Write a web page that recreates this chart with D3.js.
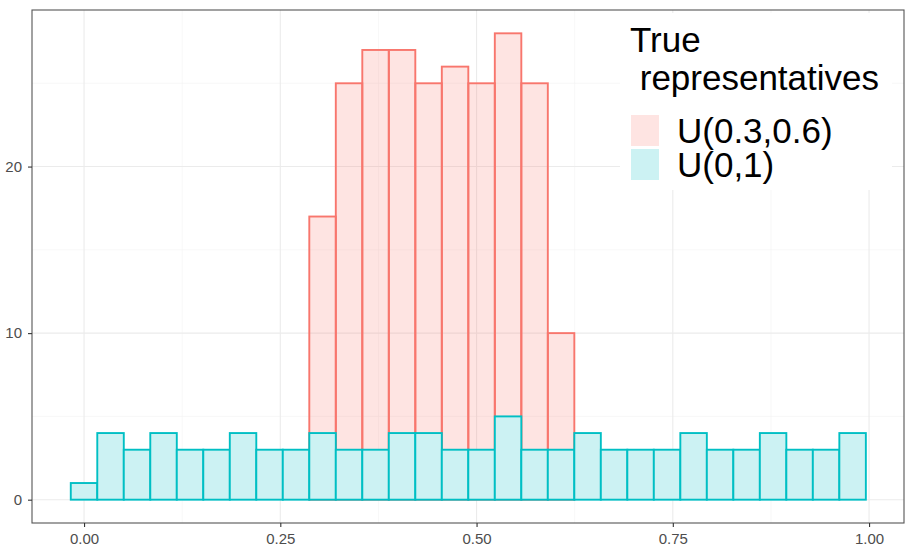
<!DOCTYPE html>
<html>
<head>
<meta charset="utf-8">
<script src="https://cdn.jsdelivr.net/npm/d3@7/dist/d3.min.js"></script>
<style>
  html, body { margin: 0; padding: 0; background: #ffffff; }
  svg { display: block; font-family: "Liberation Sans", Arial, Helvetica, sans-serif; }
</style>
</head>
<body>
<svg id="chart" width="915" height="550"></svg>
<script>
// ---- data ----
const binStart = -0.0169;
const binWidth = 0.03376;
const seriesNames = ["U(0.3,0.6)", "U(0,1)"];
const seriesColors = ["#F8766D", "#00BFC4"];
const seriesFills = ["#FEE4E2", "#CCF2F3"];
// U(0.3,0.6): counts in bins 9..18 (others zero)
const redFirstBin = 9;
const redCounts = [17, 25, 27, 27, 25, 26, 25, 28, 25, 10];
// U(0,1): counts in all 30 bins
const blueCounts = [1, 4, 3, 4, 3, 3, 4, 3, 3, 4,
                    3, 3, 4, 4, 3, 3, 5, 3, 3, 4,
                    3, 3, 3, 4, 3, 3, 4, 3, 3, 4];
const xTicks = [0, 0.25, 0.5, 0.75, 1];
const xMinor = [0.125, 0.375, 0.625, 0.875];
const yTicks = [0, 10, 20];
const yMinor = [5, 15, 25];
const legendTitle = ["True", " representatives"];

// ---- layout ----
const panel = { left: 32, right: 904, top: 10, bottom: 523 };
const svg = d3.select("#chart");

const x = d3.scaleLinear().domain([-0.0663, 1.0445]).range([panel.left, panel.right]);
const yMax = d3.max(redCounts.concat(blueCounts));
const y = d3.scaleLinear().domain([-0.05 * yMax, yMax * 1.05]).range([panel.bottom, panel.top]);

const fmtX = d3.format(".2f");

// panel background
svg.append("rect").attr("x", panel.left).attr("y", panel.top)
  .attr("width", panel.right - panel.left).attr("height", panel.bottom - panel.top)
  .attr("fill", "#ffffff");

// grid
const grid = svg.append("g");
grid.selectAll(".xmin").data(xMinor).enter().append("line")
  .attr("x1", d => x(d)).attr("x2", d => x(d))
  .attr("y1", panel.top).attr("y2", panel.bottom)
  .attr("stroke", "#F2F2F2").attr("stroke-width", 0.6);
grid.selectAll(".ymin").data(yMinor).enter().append("line")
  .attr("y1", d => y(d)).attr("y2", d => y(d))
  .attr("x1", panel.left).attr("x2", panel.right)
  .attr("stroke", "#F2F2F2").attr("stroke-width", 0.6);
grid.selectAll(".xmaj").data(xTicks).enter().append("line")
  .attr("x1", d => x(d)).attr("x2", d => x(d))
  .attr("y1", panel.top).attr("y2", panel.bottom)
  .attr("stroke", "#EBEBEB").attr("stroke-width", 1.1);
grid.selectAll(".ymaj").data(yTicks).enter().append("line")
  .attr("y1", d => y(d)).attr("y2", d => y(d))
  .attr("x1", panel.left).attr("x2", panel.right)
  .attr("stroke", "#EBEBEB").attr("stroke-width", 1.1);

// bars
const redData = redCounts.map((c, i) => ({ x0: binStart + (redFirstBin + i) * binWidth, count: c }));
const blueData = blueCounts.map((c, i) => ({ x0: binStart + i * binWidth, count: c }));

function drawBars(data, color, fill, op) {
  svg.append("g").selectAll("rect").data(data).enter().append("rect")
    .attr("x", d => x(d.x0))
    .attr("width", d => x(d.x0 + binWidth) - x(d.x0))
    .attr("y", d => y(d.count))
    .attr("height", d => y(0) - y(d.count))
    .attr("fill", fill).attr("fill-opacity", op)
    .attr("stroke", color).attr("stroke-width", 1.9);
}
drawBars(redData, seriesColors[0], seriesColors[0], 0.2);
drawBars(blueData, seriesColors[1], seriesFills[1], 1);

// panel border
svg.append("rect").attr("x", panel.left).attr("y", panel.top)
  .attr("width", panel.right - panel.left).attr("height", panel.bottom - panel.top)
  .attr("fill", "none").attr("stroke", "#555555").attr("stroke-width", 1.1);

// axes
const xAxis = svg.append("g").attr("transform", `translate(0,${panel.bottom})`)
  .call(d3.axisBottom(x).tickValues(xTicks).tickFormat(fmtX).tickSize(4).tickPadding(6));
const yAxis = svg.append("g").attr("transform", `translate(${panel.left},0)`)
  .call(d3.axisLeft(y).tickValues(yTicks).tickSize(4).tickPadding(6));
[xAxis, yAxis].forEach(a => {
  a.select(".domain").remove();
  a.selectAll(".tick line").attr("stroke", "#333333").attr("stroke-width", 1.1);
  a.selectAll(".tick text").attr("fill", "#4D4D4D").style("font-size", "15px")
    .style("font-family", '"Liberation Sans", Arial, sans-serif');
});

// legend
const lg = svg.append("g");
lg.append("rect").attr("x", 620).attr("y", 13).attr("width", 272).attr("height", 177).attr("fill", "#ffffff");
lg.selectAll(".title").data(legendTitle).enter().append("text")
  .attr("x", 630).attr("y", (d, i) => 52 + i * 38)
  .attr("fill", "#000000").style("font-size", "35px").style("white-space", "pre")
  .attr("xml:space", "preserve")
  .text(d => d);
seriesNames.forEach((name, i) => {
  lg.append("rect").attr("x", 631).attr("y", 115 + i * 34).attr("width", 28).attr("height", 31)
    .attr("fill", seriesFills[i]);
  lg.append("text").attr("x", 677).attr("y", 143 + i * 34)
    .attr("fill", "#000000").style("font-size", "35px").text(name);
});
</script>
</body>
</html>
